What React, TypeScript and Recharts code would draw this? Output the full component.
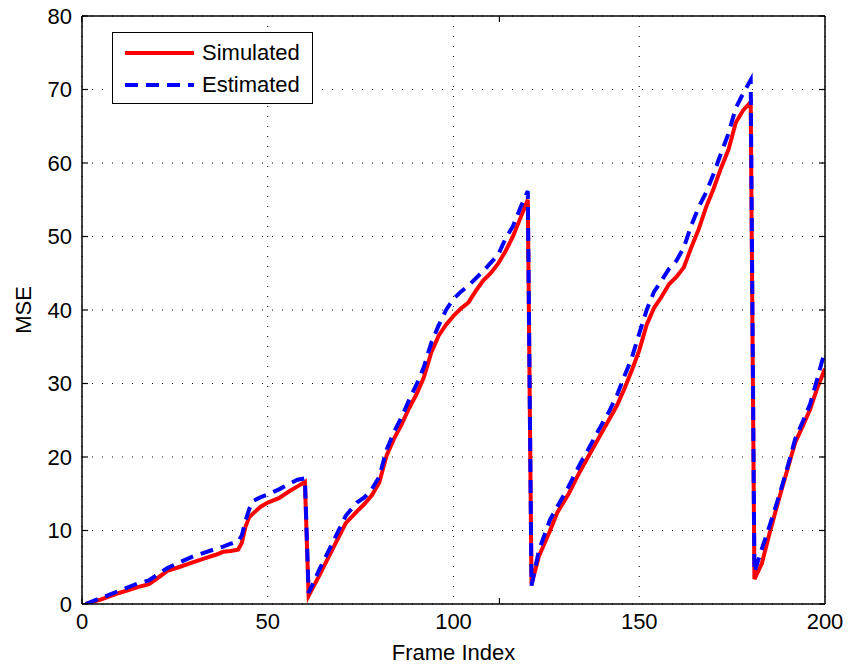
import { CartesianGrid, Legend, Line, LineChart, XAxis, YAxis } from 'recharts'

const frames = [
  1, 5, 10, 15, 18, 20, 23, 26, 30, 33, 36, 38, 40, 42, 43, 44, 45, 46, 48, 50, 53, 56, 58, 60,
  61, 64, 68, 71, 74, 76, 78, 80, 82, 84, 86, 88, 90, 92, 94, 96, 98, 100, 102, 104, 106, 108,
  110, 112, 114, 116, 118, 120, 121, 123, 126, 128, 131, 134, 136, 139, 142, 144, 146, 148, 150,
  152, 154, 156, 158, 160, 162, 164, 166, 168, 170, 172, 174, 176, 178, 180, 181, 183, 185, 188,
  190, 192, 194, 196, 198, 200,
]

const simulated = [
  0, 0.6, 1.5, 2.3, 2.7, 3.4, 4.5, 5.0, 5.7, 6.2, 6.7, 7.1, 7.2, 7.4, 8.3, 10.5, 11.8, 12.3, 13.2,
  13.8, 14.4, 15.4, 16.0, 16.6,
  1.1, 4.0, 8.0, 11.0, 12.6, 13.6, 14.8, 16.5, 20.2, 22.5, 24.4, 26.6, 28.5, 30.8, 34.2, 36.5,
  38.0, 39.2, 40.2, 41.0, 42.6, 44.0, 45.0, 46.3, 48.0, 50.0, 52.5, 55.0,
  2.7, 6.5, 10.0, 12.5, 15.0, 18.0, 19.8, 22.5, 25.2, 27.0, 29.3, 31.8, 34.5, 38.0, 40.3, 41.8,
  43.5, 44.5, 45.8, 48.5, 51.0, 54.0, 56.5, 59.3, 61.8, 65.5, 67.2, 68.3,
  3.4, 5.5, 9.5, 15.0, 18.5, 22.0, 24.2, 26.5, 29.5, 32.0,
]

const estimated = [
  0, 0.8, 1.8, 2.8, 3.2, 3.9, 4.9, 5.6, 6.5, 7.0, 7.5, 7.8, 8.2, 8.5, 9.3, 11.3, 12.9, 14.0, 14.5,
  14.9, 15.6, 16.4, 16.9, 17.1,
  1.5, 4.8, 8.9, 12.0, 13.8, 14.5, 15.6, 17.3, 21.0, 23.4, 25.4, 27.7, 29.8, 32.2, 35.5, 37.9,
  40.0, 41.5, 42.5, 43.3, 44.3, 45.3, 46.4, 47.5, 49.7, 51.4, 53.9, 56.2,
  2.5, 7.3, 11.5, 13.3, 16.0, 19.0, 20.8, 23.6, 26.3, 28.4, 31.0, 33.5, 36.8, 40.0, 42.5, 44.0,
  45.6, 46.7, 48.5, 51.5, 54.0, 56.0, 58.5, 61.3, 64.0, 67.5, 69.5, 71.3,
  4.3, 7.5, 10.5, 15.3, 18.8, 22.5, 24.8, 27.2, 30.8, 34.5,
]

const xTicks = [0, 50, 100, 150, 200]
const yTicks = [0, 10, 20, 30, 40, 50, 60, 70, 80]

const data = frames.map((f, i) => ({ frame: f, simulated: simulated[i], estimated: estimated[i] }))

const font = 'Liberation Sans, Arial, sans-serif'
const tickStyle = { fontSize: 22, fill: '#000', fontFamily: font }
const labelStyle = { fontSize: 22, fill: '#000', fontFamily: font }
const noLabel = () => <g />
const innerTick = { stroke: '#000', strokeWidth: 1.2 }
const frameLine = { stroke: '#000', strokeWidth: 1.5 }

function renderLegend() {
  const items = [
    { name: 'Simulated', color: '#ff0000', dash: undefined },
    { name: 'Estimated', color: '#0000ff', dash: '13 8' },
  ]
  return (
    <div
      style={{
        border: '1.5px solid #000',
        background: '#fff',
        width: 201,
        height: 72,
        boxSizing: 'border-box',
        fontFamily: font,
        fontSize: 22,
        paddingTop: 4,
      }}
    >
      {items.map((it) => (
        <div key={it.name} style={{ display: 'flex', alignItems: 'center', height: 32 }}>
          <svg width={89} height={10} style={{ flex: 'none' }}>
            <line x1={12} x2={81} y1={5} y2={5} stroke={it.color} strokeWidth={4} strokeDasharray={it.dash} />
          </svg>
          <span style={{ lineHeight: '32px' }}>{it.name}</span>
        </div>
      ))}
    </div>
  )
}

export default function App() {
  return (
    <div style={{ position: 'absolute', left: 0, top: 0, width: 849, height: 669, background: '#fff' }}>
      <LineChart width={849} height={669} data={data} margin={{ top: 16, right: 24, bottom: 0, left: 0 }}>
        <CartesianGrid stroke="#000" strokeDasharray="1 9" strokeWidth={1} />
        <XAxis
          dataKey="frame"
          type="number"
          domain={[0, 200]}
          ticks={xTicks}
          allowDataOverflow
          height={65}
          tickLine={false}
          tickMargin={3}
          tick={tickStyle}
          axisLine={frameLine}
          label={{ value: 'Frame Index', position: 'insideBottom', offset: 9, style: labelStyle }}
        />
        <XAxis xAxisId="bt" type="number" domain={[0, 200]} ticks={xTicks} allowDataOverflow orientation="bottom" mirror height={1} tick={noLabel} tickSize={6} tickLine={innerTick} axisLine={false} />
        <XAxis xAxisId="top" type="number" domain={[0, 200]} ticks={xTicks} allowDataOverflow orientation="top" mirror height={1} tick={noLabel} tickSize={6} tickLine={innerTick} axisLine={frameLine} />
        <YAxis
          type="number"
          domain={[0, 80]}
          ticks={yTicks}
          allowDataOverflow
          width={82}
          tickLine={false}
          tickMargin={4}
          tick={tickStyle}
          axisLine={frameLine}
          label={{ value: 'MSE', angle: -90, position: 'insideLeft', offset: 23, style: { ...labelStyle, textAnchor: 'middle' } }}
        />
        <YAxis yAxisId="lt" type="number" domain={[0, 80]} ticks={yTicks} allowDataOverflow orientation="left" mirror width={1} tick={noLabel} tickSize={6} tickLine={innerTick} axisLine={false} />
        <YAxis yAxisId="rt" type="number" domain={[0, 80]} ticks={yTicks} allowDataOverflow orientation="right" mirror width={1} tick={noLabel} tickSize={6} tickLine={innerTick} axisLine={frameLine} />
        <Legend
          layout="vertical"
          align="center"
          verticalAlign="middle"
          content={renderLegend}
          wrapperStyle={{ top: 32, left: 112, width: 201, height: 72 }}
        />
        <Line dataKey="simulated" name="Simulated" stroke="#ff0000" strokeWidth={4} dot={false} isAnimationActive={false} />
        <Line dataKey="estimated" name="Estimated" stroke="#0000ff" strokeWidth={4} strokeDasharray="13 8" dot={false} isAnimationActive={false} />
      </LineChart>
    </div>
  )
}
